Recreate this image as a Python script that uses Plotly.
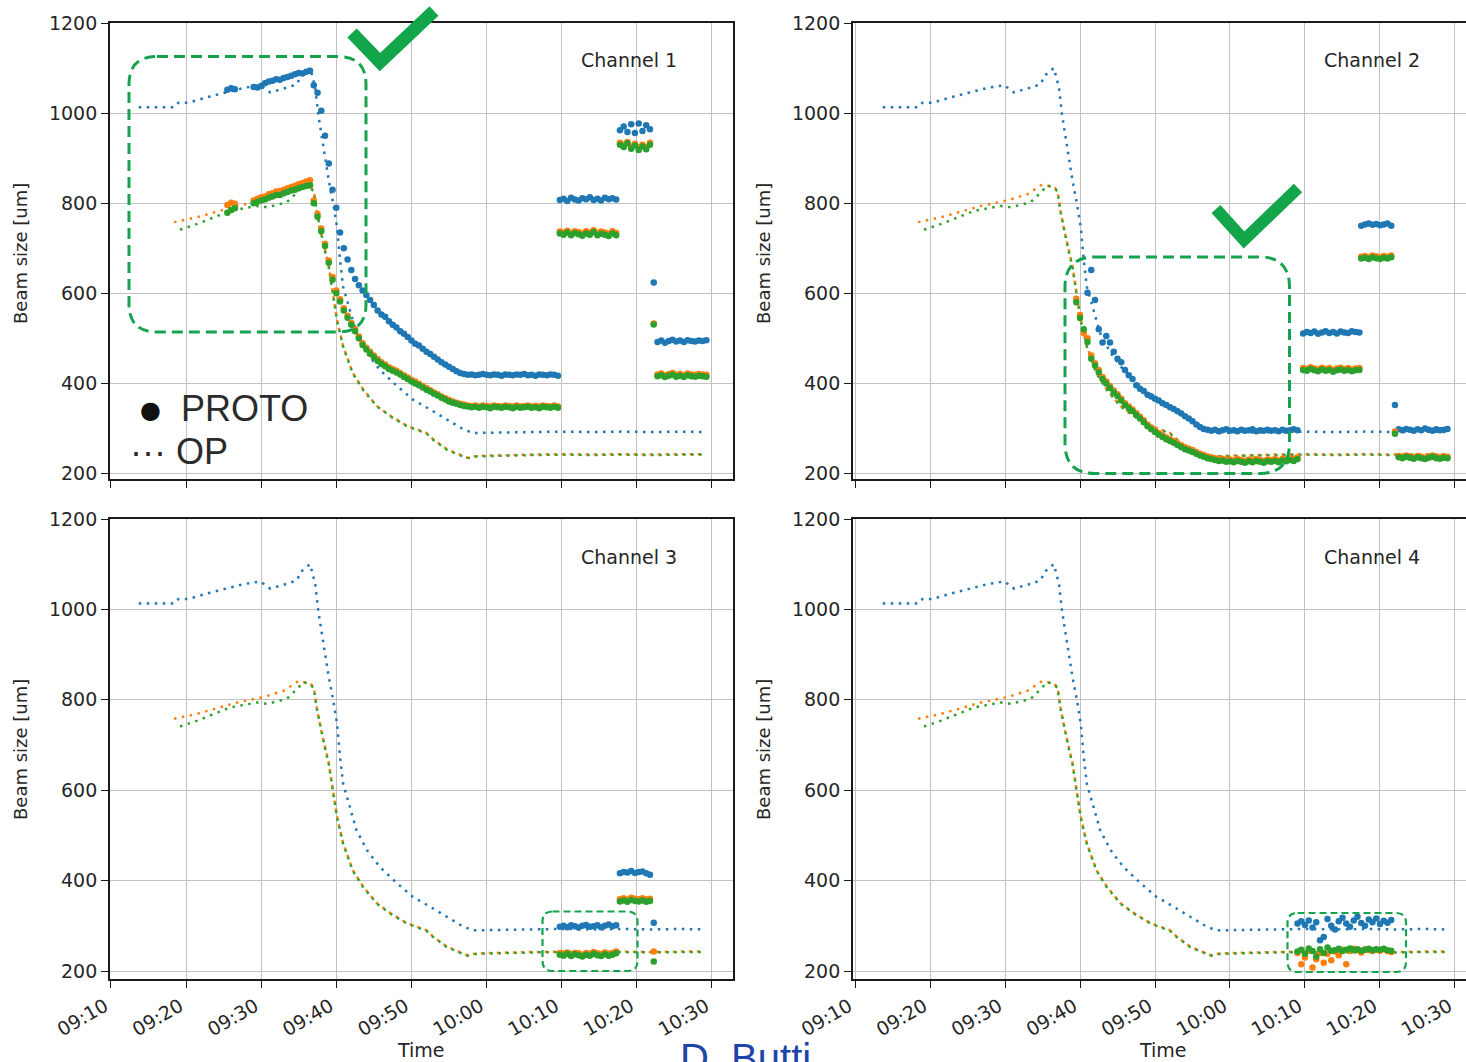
import plotly.graph_objects as go
import pandas as pd

W, H = 1466, 1062
BASE = pd.Timestamp("2021-06-01 09:10:00")

# ---------------- OP monitor (same in every panel), minutes after 09:10 ----------------
OP_BLUE_T = [3.7, 7.2, 8.4, 9.0, 10.3, 13.2, 17.7, 19.9, 20.8, 21.2, 23.9, 24.8, 25.2, 26.5, 26.8, 27.2, 27.6, 28.3,
             29.0, 29.6, 30.1, 30.5, 30.9, 31.8, 32.7, 34.1, 35.8, 38.1, 40.2, 42.5, 44.7, 46.9, 48.2, 52.0, 56.0,
             60.0, 64.0, 68.0, 72.0, 76.0, 78.8]
OP_BLUE_V = [1013, 1012, 1013, 1023, 1023, 1037, 1056, 1062, 1052, 1046, 1059, 1065, 1082, 1100, 1082, 1056, 997, 923,
             850, 798, 747, 673, 615, 563, 511, 467, 430, 394, 364, 342, 320, 298, 290, 291, 292,
             293, 292, 293, 292, 293, 292]
OP_ORANGE_T = [8.4, 11.5, 16.8, 20.3, 23.0, 25.0, 25.6, 26.3, 27.0, 27.4, 27.9, 28.5, 29.0, 29.4, 30.1, 30.9, 32.2,
               33.6, 35.4, 37.2, 39.4, 42.0, 42.9, 44.7, 47.4, 48.7, 52.0, 56.0, 60.0, 64.0, 68.0, 72.0, 76.0, 78.8]
OP_ORANGE_V = [758, 769, 794, 806, 820, 842, 839, 839, 828, 783, 739, 695, 660, 615, 541, 483, 423,
               386, 350, 328, 306, 290, 276, 254, 235, 239, 241, 242, 243, 242, 243, 242, 243, 243]
OP_GREEN_T = [9.2, 11.5, 15.9, 19.4, 20.8, 23.4, 24.8, 25.6, 26.5, 27.0, 27.4, 27.9, 28.5, 29.0, 29.4, 30.1, 30.9,
              32.2, 33.6, 35.4, 37.2, 39.4, 42.0, 42.9, 44.7, 47.4, 48.7, 52.0, 56.0, 60.0, 64.0, 68.0, 72.0, 76.0, 78.8]
OP_GREEN_V = [741, 754, 783, 794, 791, 802, 824, 839, 835, 826, 781, 737, 693, 658, 613, 540, 482,
              422, 385, 349, 327, 305, 289, 275, 253, 234, 238, 240, 241, 242, 241, 242, 241, 242, 242]

STEP = 0.5  # PROTO sampling interval (minutes)

# ---------------- PROTO, channel 1 ----------------
CH1_A1_START = 15.5
CH1_A1_BLUE = [1052, 1055, 1053]
CH1_A1_ORANGE = [796, 801, 799]
CH1_A1_GREEN = [779, 785, 789]

CH1_A2_START = 19.0
CH1_A2_BLUE = [1058, 1057, 1060, 1066, 1070, 1072, 1075, 1074, 1078, 1080, 1083, 1086, 1089, 1088, 1092, 1094,
               1062, 1045, 1005, 950, 888, 830, 790, 735, 700, 675, 652, 632, 618, 606, 596, 585, 574, 562, 553,
               548, 538, 530, 524, 516, 510, 503, 495, 488, 484, 477, 470, 465, 459, 453, 447, 442, 437, 432, 427,
               423, 421, 419, 420, 418, 419, 421, 419, 418, 420, 419, 417, 420, 419, 418, 420, 419, 421, 418, 419,
               417, 420, 419, 418, 420, 419, 417]
CH1_A2_ORANGE = [806, 810, 813, 815, 820, 822, 826, 827, 830, 833, 836, 839, 842, 845, 848, 851,
                 806, 776, 744, 710, 673, 636, 606, 587, 567, 550, 534, 520, 504, 489, 479, 470, 462, 454, 447,
                 442, 436, 432, 428, 423, 418, 413, 408, 404, 399, 394, 390, 385, 380, 376, 371, 367, 363, 360, 357,
                 355, 353, 351, 350, 351, 349, 351, 350, 349, 351, 350, 349, 351, 350, 349, 351, 349, 350, 351, 349,
                 350, 349, 351, 350, 349, 351, 349]
CH1_A2_GREEN = [800, 803, 806, 808, 812, 815, 818, 818, 822, 825, 828, 830, 833, 836, 838, 840,
                800, 770, 738, 705, 668, 630, 600, 582, 562, 546, 530, 516, 500, 485, 475, 466, 458, 450, 443,
                438, 432, 428, 424, 420, 414, 410, 404, 400, 396, 391, 386, 382, 377, 373, 368, 364, 360, 357, 355,
                352, 350, 349, 347, 348, 346, 348, 347, 345, 348, 347, 346, 348, 347, 345, 348, 346, 347, 348, 346,
                347, 345, 348, 347, 346, 348, 346]

CH1_B_START = 59.75
CH1_B_BLUE = [807, 810, 805, 812, 808, 806, 811, 809, 813, 807, 810, 806, 812, 809, 811, 808]
CH1_B_ORANGE = [737, 735, 739, 734, 738, 736, 733, 738, 735, 740, 734, 737, 735, 732, 738, 734]
CH1_B_GREEN = [733, 730, 735, 729, 734, 731, 728, 733, 730, 736, 729, 732, 730, 727, 733, 729]

CH1_C_START = 67.75
CH1_C_BLUE = [962, 970, 958, 975, 956, 977, 960, 973, 964]
CH1_C_ORANGE = [934, 930, 936, 926, 932, 924, 930, 925, 934]
CH1_C_GREEN = [930, 925, 933, 921, 928, 918, 926, 920, 930]

CH1_D_START = 72.25
CH1_D_BLUE = [624, 492, 495, 490, 494, 497, 493, 495, 492, 496, 494, 493, 495, 494, 496]
CH1_D_ORANGE = [533, 420, 422, 418, 421, 423, 419, 421, 418, 422, 420, 419, 421, 420, 419]
CH1_D_GREEN = [531, 416, 418, 414, 417, 419, 415, 417, 414, 418, 416, 415, 417, 416, 415]

# ---------------- PROTO, channel 2 ----------------
CH2_AB_START = 31.0
CH2_A_BLUE = [601, 652, 585, 520, 491, 505, 491, 470, 455, 447, 430, 418, 410, 396, 388, 383, 375, 371, 366, 362,
              356, 352, 347, 343, 338, 333, 327, 322, 316, 309, 303, 299, 297, 295, 297, 294, 296, 298, 295, 296,
              294, 297, 295, 296, 298, 294, 296, 295, 297, 295, 296, 294, 297, 295, 296, 298, 296]
CH2_AOG_START = 29.5
CH2_A_ORANGE = [588, 552, 512, 500, 462, 445, 430, 414, 404, 394, 384, 376, 366, 356, 349, 342, 334, 326, 318, 309,
                302, 296, 290, 285, 280, 276, 272, 267, 262, 258, 255, 252, 248, 244, 241, 238, 236, 234, 232, 233,
                230, 231, 229, 232, 230, 228, 231, 229, 232, 230, 228, 231, 230, 232, 229, 233, 231, 234, 232, 236]
CH2_A_GREEN = [580, 545, 520, 492, 455, 440, 425, 410, 400, 390, 380, 372, 362, 352, 345, 338, 330, 322, 314, 305,
               298, 292, 286, 281, 276, 272, 268, 263, 258, 254, 251, 248, 244, 240, 237, 234, 232, 230, 228, 229,
               226, 227, 225, 228, 226, 224, 227, 225, 228, 226, 224, 227, 226, 228, 225, 229, 227, 230, 228, 232]

CH2_B_START = 59.75
CH2_B_BLUE = [511, 514, 512, 515, 510, 513, 516, 512, 514, 511, 515, 513, 512, 516, 514, 513]
CH2_B_ORANGE = [434, 432, 436, 433, 431, 435, 432, 434, 430, 433, 435, 432, 434, 431, 433, 434]
CH2_B_GREEN = [430, 428, 432, 429, 427, 431, 428, 430, 426, 429, 431, 428, 430, 427, 429, 430]

CH2_C_START = 67.5
CH2_C_BLUE = [750, 753, 755, 752, 754, 751, 753, 755, 750]
CH2_C_ORANGE = [681, 683, 680, 684, 682, 680, 683, 681, 684]
CH2_C_GREEN = [677, 679, 676, 680, 678, 676, 679, 677, 680]

CH2_D_START = 72.0
CH2_D_BLUE = [352, 298, 296, 299, 297, 295, 298, 296, 300, 297, 295, 298, 296, 297, 299]
CH2_D_ORANGE = [293, 239, 237, 240, 238, 236, 239, 237, 235, 238, 240, 237, 236, 238, 237]
CH2_D_GREEN = [288, 236, 234, 237, 235, 233, 236, 234, 232, 235, 237, 234, 233, 235, 234]

# ---------------- PROTO, channel 3 ----------------
CH3_B_START = 59.75
CH3_B_BLUE = [298, 300, 297, 301, 299, 296, 300, 302, 298, 299, 301, 297, 300, 303, 299, 301]
CH3_B_ORANGE = [240, 238, 241, 237, 240, 239, 236, 240, 238, 242, 239, 237, 241, 238, 240, 243]
CH3_B_GREEN = [236, 234, 238, 233, 237, 235, 232, 236, 234, 238, 235, 233, 237, 234, 236, 239]

CH3_C_START = 67.75
CH3_C_BLUE = [416, 419, 418, 421, 417, 419, 420, 416, 413]
CH3_C_ORANGE = [359, 361, 358, 362, 360, 359, 361, 358, 360]
CH3_C_GREEN = [354, 356, 353, 357, 355, 354, 356, 353, 355]

CH3_D_START = 72.25
CH3_D_BLUE = [307]
CH3_D_ORANGE = [243]
CH3_D_GREEN = [221]

# ---------------- PROTO, channel 4 ----------------
CH4_START = 59.0
CH4_BLUE = [305, 310, 302, 312, 296, 308, 268, 275, 315, 300, 292, 310, 318, 305, 298, 312, 320, 306, 300, 314,
            308, 316, 304, 311, 307, 313]
CH4_ORANGE = [240, 215, 230, 245, 208, 226, 240, 218, 238, 224, 243, 235, 247, 215, 244, 249, 246, 241, 248, 246,
              244, 247, 245, 248, 244, 242]
CH4_GREEN = [243, 247, 238, 250, 244, 232, 248, 240, 252, 245, 246, 249, 244, 247, 250, 246, 248, 245, 247, 249,
             246, 248, 247, 249, 246, 245]

C_BLUE, C_ORANGE, C_GREEN = "#1f77b4", "#ff7f0e", "#2ca02c"
MARK = "#16a34f"
TXT = "#262626"


def to_time(minutes):
    return [BASE + pd.Timedelta(minutes=m) for m in minutes]


def sample_times(start, n):
    return to_time([start + STEP * i for i in range(n)])


def px(x):
    return x / W


def py(y):
    return 1 - y / H


fig = go.Figure()

panels = [("x", "y"), ("x2", "y2"), ("x3", "y3"), ("x4", "y4")]

proto = {
    0: [(CH1_A1_START, CH1_A1_START, CH1_A1_BLUE, CH1_A1_ORANGE, CH1_A1_GREEN),
        (CH1_A2_START, CH1_A2_START, CH1_A2_BLUE, CH1_A2_ORANGE, CH1_A2_GREEN),
        (CH1_B_START, CH1_B_START, CH1_B_BLUE, CH1_B_ORANGE, CH1_B_GREEN),
        (CH1_C_START, CH1_C_START, CH1_C_BLUE, CH1_C_ORANGE, CH1_C_GREEN),
        (CH1_D_START, CH1_D_START, CH1_D_BLUE, CH1_D_ORANGE, CH1_D_GREEN)],
    1: [(CH2_AB_START, CH2_AOG_START, CH2_A_BLUE, CH2_A_ORANGE, CH2_A_GREEN),
        (CH2_B_START, CH2_B_START, CH2_B_BLUE, CH2_B_ORANGE, CH2_B_GREEN),
        (CH2_C_START, CH2_C_START, CH2_C_BLUE, CH2_C_ORANGE, CH2_C_GREEN),
        (CH2_D_START, CH2_D_START, CH2_D_BLUE, CH2_D_ORANGE, CH2_D_GREEN)],
    2: [(CH3_B_START, CH3_B_START, CH3_B_BLUE, CH3_B_ORANGE, CH3_B_GREEN),
        (CH3_C_START, CH3_C_START, CH3_C_BLUE, CH3_C_ORANGE, CH3_C_GREEN),
        (CH3_D_START, CH3_D_START, CH3_D_BLUE, CH3_D_ORANGE, CH3_D_GREEN)],
    3: [(CH4_START, CH4_START, CH4_BLUE, CH4_ORANGE, CH4_GREEN)],
}

for i, (xa, ya) in enumerate(panels):
    for t, v, c in [(OP_BLUE_T, OP_BLUE_V, C_BLUE), (OP_ORANGE_T, OP_ORANGE_V, C_ORANGE),
                    (OP_GREEN_T, OP_GREEN_V, C_GREEN)]:
        fig.add_trace(go.Scatter(x=to_time(t), y=v, mode="lines", xaxis=xa, yaxis=ya, showlegend=False,
                                 line=dict(color=c, width=2.5, dash="2.5px,5.5px")))
    segs = proto[i]
    for color_idx, c in [(2, C_BLUE), (3, C_ORANGE), (4, C_GREEN)]:
        xs, ys = [], []
        for seg in segs:
            start = seg[0] if color_idx == 2 else seg[1]
            vals = seg[color_idx]
            xs += sample_times(start, len(vals))
            ys += vals
        fig.add_trace(go.Scatter(x=xs, y=ys, mode="markers", xaxis=xa, yaxis=ya, showlegend=False,
                                 marker=dict(color=c, size=6.5, line=dict(width=0))))

LEFT_X = [px(110), px(733)]
RIGHT_X = [px(853), 1.0]
TOP_Y = [py(479), py(23)]
BOT_Y = [py(979), py(519)]
LEFT_RANGE = to_time([-0.12, 82.8])
RIGHT_RANGE = to_time([-0.27, 81.47])

common_x = dict(type="date", tick0=BASE, dtick=600000, tickformat="%H:%M", showgrid=True,
                gridcolor="#c2c2c2", gridwidth=1.2, showline=True, linecolor="#1a1a1a", linewidth=1.8,
                mirror=True, ticks="outside", ticklen=7, tickwidth=1.4, tickcolor="#1a1a1a",
                tickangle=-30, ticklabelshift=-6,
                tickfont=dict(family="DejaVu Sans", size=19, color=TXT),
                zeroline=False, automargin=False)
common_y = dict(tick0=200, dtick=200, showgrid=True, gridcolor="#c2c2c2", gridwidth=1.2, showline=True,
                linecolor="#1a1a1a", linewidth=1.8, ticks="outside", ticklen=7, tickwidth=1.4,
                tickcolor="#1a1a1a", tickfont=dict(family="DejaVu Sans", size=19, color=TXT),
                zeroline=False, automargin=False)

layout = dict(
    width=W, height=H, margin=dict(l=0, r=0, t=0, b=0), autosize=False,
    paper_bgcolor="white", plot_bgcolor="white", showlegend=False,
    xaxis=dict(common_x, domain=LEFT_X, range=LEFT_RANGE, anchor="y", showticklabels=False),
    yaxis=dict(common_y, domain=TOP_Y, range=[187.8, 1200], anchor="x", mirror=True),
    xaxis2=dict(common_x, domain=RIGHT_X, range=RIGHT_RANGE, anchor="y2", showticklabels=False),
    yaxis2=dict(common_y, domain=TOP_Y, range=[187.8, 1200], anchor="x2", mirror=False),
    xaxis3=dict(common_x, domain=LEFT_X, range=LEFT_RANGE, anchor="y3", showticklabels=True),
    yaxis3=dict(common_y, domain=BOT_Y, range=[182.3, 1200], anchor="x3", mirror=True),
    xaxis4=dict(common_x, domain=RIGHT_X, range=RIGHT_RANGE, anchor="y4", showticklabels=True),
    yaxis4=dict(common_y, domain=BOT_Y, range=[182.3, 1200], anchor="x4", mirror=False),
)
fig.update_layout(**layout)


def ann(text, x, y, size, color=TXT, family="DejaVu Sans", xanchor="center", yanchor="middle", angle=0):
    fig.add_annotation(text=text, x=px(x), y=py(y), xref="paper", yref="paper", showarrow=False,
                       xanchor=xanchor, yanchor=yanchor, textangle=angle,
                       font=dict(family=family, size=size, color=color))


for name, (cx, cy) in [("Channel 1", (629, 60)), ("Channel 2", (1372, 60)),
                       ("Channel 3", (629, 557)), ("Channel 4", (1372, 557))]:
    ann(name, cx, cy, 19)

for (cx, cy) in [(20, 254), (763, 254), (20, 750), (763, 750)]:
    ann("Beam size [um]", cx, cy, 18, angle=-90)

ann("Time", 421, 1050, 19)
ann("Time", 1163, 1050, 19)

ann("●", 150, 410, 24, color="#111111")
ann("PROTO", 179, 408, 36, color="#2b2b2b", family="Liberation Sans", xanchor="left")
ann("··· OP", 128, 451, 36, color="#2b2b2b", family="Liberation Sans", xanchor="left")

ann("D. Butti", 678, 1058, 40, color="#1d44a8", family="Liberation Sans", xanchor="left")


def rrect(x0, y0, x1, y1, r):
    pts = [("M", [(x0 + r, y0)]), ("L", [(x1 - r, y0)]), ("Q", [(x1, y0), (x1, y0 + r)]),
           ("L", [(x1, y1 - r)]), ("Q", [(x1, y1), (x1 - r, y1)]), ("L", [(x0 + r, y1)]),
           ("Q", [(x0, y1), (x0, y1 - r)]), ("L", [(x0, y0 + r)]), ("Q", [(x0, y0), (x0 + r, y0)])]
    s = ""
    for cmd, ps in pts:
        s += cmd + " " + " ".join(f"{px(a):.5f},{py(b):.5f}" for a, b in ps) + " "
    return s + "Z"


def polyline(points):
    return "M " + " L ".join(f"{px(a):.5f},{py(b):.5f}" for a, b in points)


shapes = [
    dict(type="path", path=rrect(129, 56.5, 366, 332, 28), line=dict(color=MARK, width=3, dash="11px,6px")),
    dict(type="path", path=rrect(1065, 257, 1289.5, 473.5, 30), line=dict(color=MARK, width=3, dash="11px,6px")),
    dict(type="path", path=rrect(542.5, 911.5, 637.5, 971, 10), line=dict(color=MARK, width=2.2, dash="7px,4px")),
    dict(type="path", path=rrect(1287.5, 913, 1406, 972, 10), line=dict(color=MARK, width=2.2, dash="7px,4px")),
    dict(type="path", path=polyline([(352, 33), (380, 62), (434, 11)]), line=dict(color="#12a54a", width=13)),
    dict(type="path", path=polyline([(1216, 209), (1244, 240), (1298, 188)]), line=dict(color="#12a54a", width=12)),
]
for s in shapes:
    s.update(xref="paper", yref="paper", layer="above")
fig.update_layout(shapes=shapes)

fig.write_html("out.html")
